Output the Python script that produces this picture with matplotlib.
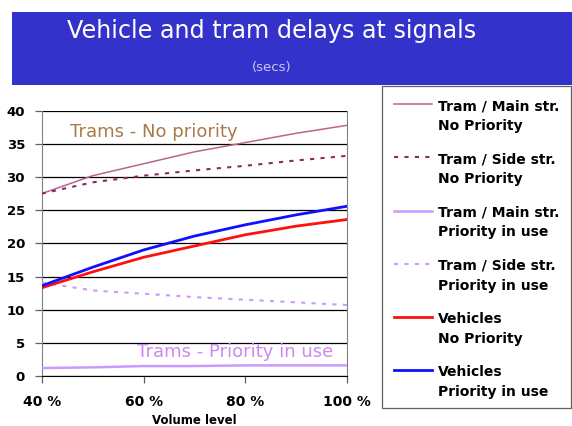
import matplotlib
matplotlib.use("Agg")
import matplotlib.pyplot as plt
from matplotlib.lines import Line2D
from matplotlib.patches import Rectangle

# ---- data ----
volume = [40, 50, 60, 70, 80, 90, 100]
tram_main_nopri = [27.5, 30.2, 32.0, 33.8, 35.2, 36.6, 37.8]
tram_side_nopri = [27.5, 29.2, 30.2, 31.0, 31.7, 32.5, 33.2]
tram_main_pri = [1.2, 1.3, 1.5, 1.5, 1.6, 1.6, 1.6]
tram_side_pri = [14.1, 12.9, 12.4, 11.9, 11.5, 11.1, 10.7]
veh_nopri = [13.3, 15.7, 17.9, 19.6, 21.3, 22.6, 23.6]
veh_pri = [13.6, 16.4, 19.0, 21.1, 22.8, 24.3, 25.6]

xticks = [40, 60, 80, 100]
xtick_labels = ["40 %", "60 %", "80 %", "100 %"]
yticks = [0, 5, 10, 15, 20, 25, 30, 35, 40]

series_labels = [
    "Tram / Main str.\nNo Priority",
    "Tram / Side str.\nNo Priority",
    "Tram / Main str.\nPriority in use",
    "Tram / Side str.\nPriority in use",
    "Vehicles\nNo Priority",
    "Vehicles\nPriority in use",
]
title = "Vehicle and tram delays at signals"
subtitle = "(secs)"
xlabel = "Volume level"
note_nopri = "Trams - No priority"
note_pri = "Trams - Priority in use"

plt.rcParams['font.family'] = ['DejaVu Sans']

W, H = 572, 426
fig = plt.figure(figsize=(W / 100, H / 100), dpi=100)

# title band
fig.add_artist(Rectangle((12 / W, 1 - 85 / H), 1 - 12 / W, 73 / H,
                         transform=fig.transFigure, facecolor='#3333CC',
                         edgecolor='none', zorder=0))
fig.text(272 / W, 1 - 31 / H, title, color='white', fontsize=17.2,
         ha='center', va='center')
fig.text(272 / W, 1 - 68 / H, subtitle, color='#C8C8F0', fontsize=9.5,
         ha='center', va='center')

ax = fig.add_axes([41.7 / W, 1 - 376 / H, (347.3 - 41.7) / W, (376 - 110.7) / H])

styles = [
    dict(color='#B8648E', lw=1.1, ls='-'),
    dict(color='#8E2A5E', lw=1.5, ls=(0, (2, 3))),
    dict(color='#CC99FF', lw=1.8, ls='-'),
    dict(color='#CC99FF', lw=1.5, ls=(0, (2, 3))),
    dict(color='#FF1010', lw=2.0, ls='-'),
    dict(color='#1010FF', lw=2.0, ls='-'),
]
series = [tram_main_nopri, tram_side_nopri, tram_main_pri, tram_side_pri,
          veh_nopri, veh_pri]
for vals, st in zip(series, styles):
    ax.plot(volume, vals, color=st['color'], lw=st['lw'], ls=st['ls'],
            zorder=3)

ax.set_xlim(40, 100)
ax.set_ylim(0, 40)
ax.set_xticks(xticks)
ax.set_xticklabels(xtick_labels, fontweight='bold', fontsize=10)
ax.set_yticks(yticks)
ax.set_yticklabels([str(v) for v in yticks], fontweight='bold', fontsize=9.5)
ax.yaxis.grid(True, color='black', lw=0.9)
ax.set_axisbelow(True)
for side in ['left', 'right', 'top']:
    ax.spines[side].set_color('#808080')
ax.spines['top'].set_visible(False)
ax.spines['bottom'].set_color('black')
ax.tick_params(axis='both', length=5, width=0.9, color='#606060')
ax.tick_params(axis='y', pad=7)
ax.tick_params(axis='x', pad=9)
ax.set_xlabel(xlabel, fontweight='bold', fontsize=8.5, labelpad=3.5)

ax.text(45.6, 36.8, note_nopri, color='#A87A4A', fontsize=13, ha='left',
        va='center')
ax.text(58.7, 3.6, note_pri, color='#CC88F0', fontsize=13, ha='left',
        va='center')

# legend (drawn manually to mimic the layout)
lx0, ly0, lx1, ly1 = 382, 86, 571, 408
fig.add_artist(Rectangle((lx0 / W, 1 - ly1 / H), (lx1 - lx0) / W,
                         (ly1 - ly0) / H, transform=fig.transFigure,
                         facecolor='white', edgecolor='#606060', lw=0.9))
for i, (lab, st) in enumerate(zip(series_labels, styles)):
    base = 110.3 + i * 53.1
    yl = base - 6
    fig.add_artist(Line2D([394 / W, 431.5 / W], [1 - yl / H, 1 - yl / H],
                          transform=fig.transFigure, color=st['color'],
                          lw=st['lw'], ls=st['ls']))
    for j, line in enumerate(lab.split("\n")):
        fig.text(438 / W, 1 - (base + 20 * j) / H, line, fontsize=10,
                 fontweight='bold', ha='left', va='baseline')

fig.savefig("out.png", dpi=100)
